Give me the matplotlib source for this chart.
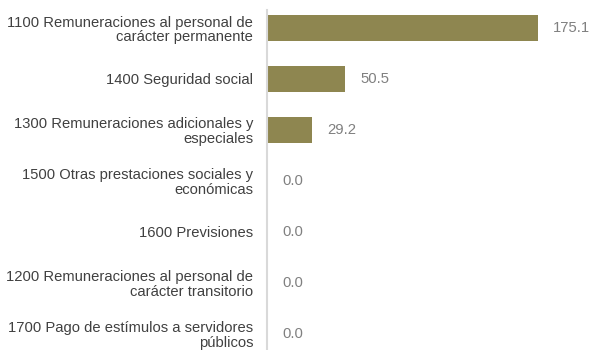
import numpy as np
import matplotlib.pyplot as plt

plt.rcParams['font.family'] = ['Liberation Sans', 'DejaVu Sans']

# data
categorias = [
    '1100 Remuneraciones al personal de\ncarácter permanente',
    '1400 Seguridad social',
    '1300 Remuneraciones adicionales y\nespeciales',
    '1500 Otras prestaciones sociales y\neconómicas',
    '1600 Previsiones',
    '1200 Remuneraciones al personal de\ncarácter transitorio',
    '1700 Pago de estímulos a servidores\npúblicos',
]
valores = [175.1, 50.5, 29.2, 0.0, 0.0, 0.0, 0.0]

fig = plt.figure(figsize=(5.92, 3.5), dpi=100)
ax = fig.add_axes([267/592, 0, 1 - 267/592, 340/350])

y = np.arange(len(valores))
ax.barh(y, valores, height=0.51, color='#8e8650')

for yi, v in zip(y, valores):
    ax.annotate(f'{v:.1f}', (v, yi), xytext=(11, 0), textcoords='offset points',
                ha='left', va='center', fontsize=10.7, color='#808080')

ax.set_yticks(y)
ax.set_yticklabels(categorias, fontsize=10.6, color='#404040', linespacing=1.05)
ax.set_ylim(6.314, -0.353)
ax.set_xlim(0, 210)
ax.set_xticks([])
ax.tick_params(axis='y', length=0, pad=10)
for s in ['top', 'right', 'bottom']:
    ax.spines[s].set_visible(False)
ax.spines['left'].set_color('#d9d9d9')
ax.spines['left'].set_linewidth(1.5)

fig.savefig('out.png', dpi=100)
